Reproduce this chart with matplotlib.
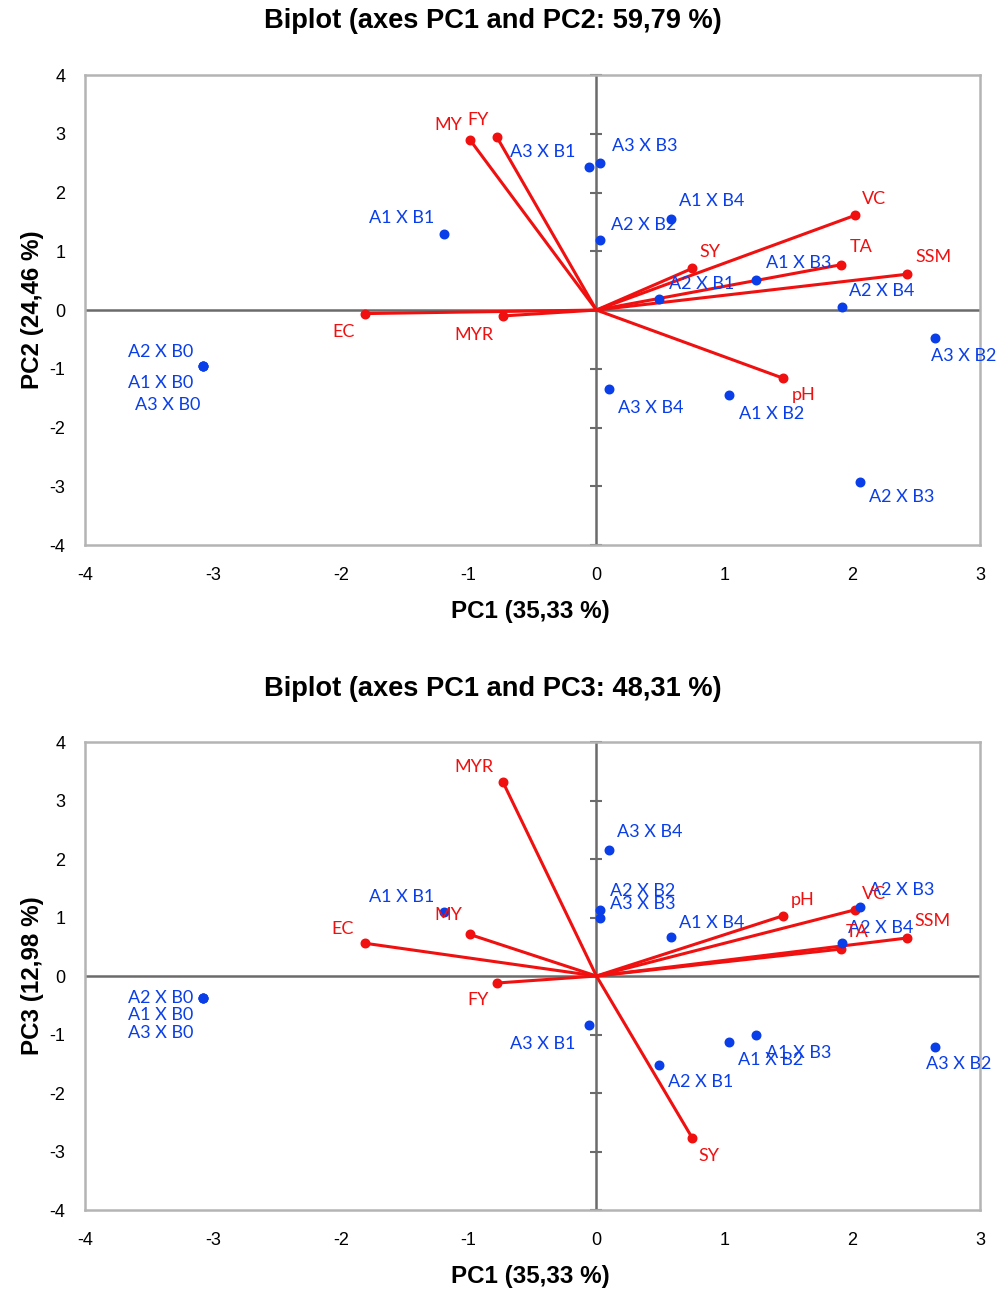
import numpy as np
import matplotlib.pyplot as plt

plt.rcParams['axes.unicode_minus'] = False

# observations (treatments)
obs = ['A2 X B0', 'A1 X B0', 'A3 X B0', 'A1 X B1', 'A2 X B1', 'A3 X B1',
       'A1 X B2', 'A2 X B2', 'A3 X B2', 'A1 X B3', 'A2 X B3', 'A3 X B3',
       'A1 X B4', 'A2 X B4', 'A3 X B4']
obs_pc1 = [-3.08, -3.08, -3.08, -1.19, 0.49, -0.06, 1.04, 0.03, 2.65, 1.25, 2.06, 0.03, 0.58, 1.92, 0.10]
obs_pc2 = [-0.95, -0.95, -0.95, 1.29, 0.19, 2.43, -1.45, 1.19, -0.48, 0.51, -2.92, 2.50, 1.55, 0.05, -1.35]
obs_pc3 = [-0.38, -0.38, -0.38, 1.09, -1.52, -0.84, -1.12, 1.13, -1.21, -1.01, 1.18, 0.99, 0.66, 0.56, 2.16]

# variables (loadings)
var = ['MY', 'FY', 'EC', 'MYR', 'VC', 'TA', 'SSM', 'SY', 'pH']
var_pc1 = [-0.99, -0.78, -1.81, -0.73, 2.02, 1.91, 2.43, 0.75, 1.46]
var_pc2 = [2.90, 2.95, -0.06, -0.10, 1.61, 0.77, 0.61, 0.71, -1.16]
var_pc3 = [0.71, -0.12, 0.56, 3.31, 1.13, 0.46, 0.65, -2.77, 1.03]

# label offsets in pixels (dx, dy)
obs_off_top = [(-42, 14), (-42, -17), (-35, -39), (-43, 16), (43, 15), (-46, 15),
               (42, -19), (43, 15), (28, -18), (42, 17), (42, -15), (44, 17),
               (41, 18), (40, 16), (42, -19)]
var_off_top = [(-22, 15), (-19, 17), (-21, -18), (-29, -19), (19, 16), (21, 18),
               (26, 17), (18, 16), (21, -17)]
obs_off_bot = [(-42, 0), (-42, -17), (-42, -35), (-43, 15), (42, -17), (-46, -19),
               (41, -18), (42, 19), (23, -17), (42, -18), (42, 17), (42, 14),
               (41, 14), (39, 15), (41, 18)]
var_off_bot = [(-22, 19), (-19, -17), (-22, 14), (-29, 15), (19, 16), (17, 17),
               (25, 17), (17, -18), (20, 16)]

BLUE = '#0a3ee8'
RED = '#f01010'
label_font = ['Lato', 'DejaVu Sans']
arial = ['Liberation Sans', 'DejaVu Sans']


def biplot(ax, ox, oy, vx, vy, ooff, voff, title, ylabel, title_y):
    ax.set_xlim(-4, 3)
    ax.set_ylim(-4, 4)
    ax.axhline(0, color='#6b6b6b', lw=1.8, zorder=1)
    ax.axvline(0, color='#6b6b6b', lw=1.8, zorder=1)
    # small ticks on the vertical zero axis
    yt = np.arange(-4, 5)
    xt = np.arange(-4, 4)
    ax.plot(np.zeros(len(yt)), yt, ls='none', marker='_', ms=9, mew=1.5, color='#6b6b6b', zorder=1, clip_on=False)

    for x, y in zip(vx, vy):
        ax.plot([0, x], [0, y], color=RED, lw=2.2, zorder=2)
    ax.scatter(vx, vy, s=38, color=RED, zorder=3)
    ax.scatter(ox, oy, s=38, color=BLUE, zorder=3)

    for name, x, y, off in zip(obs, ox, oy, ooff):
        ax.annotate(name, (x, y), xytext=off, textcoords='offset pixels',
                    ha='center', va='center', color=BLUE, fontsize=13, family=label_font)
    for name, x, y, off in zip(var, vx, vy, voff):
        ax.annotate(name, (x, y), xytext=off, textcoords='offset pixels',
                    ha='center', va='center', color=RED, fontsize=13, family=label_font)

    ax.set_xticks(xt)
    ax.set_yticks(yt)
    ax.tick_params(length=0, labelsize=13)
    ax.tick_params(axis='x', pad=16)
    ax.tick_params(axis='y', pad=14)
    for lab in ax.get_xticklabels() + ax.get_yticklabels():
        lab.set_family(arial)
    for s in ax.spines.values():
        s.set_color('#b4b4b4')
        s.set_linewidth(1.8)
    fig.text(493 / 1005, 1 - title_y / 1290, title, fontsize=19.6, fontweight='bold',
             family=arial, ha='center', va='center')
    ax.set_xlabel('PC1 (35,33 %)', fontsize=17.4, fontweight='bold', family=arial)
    ax.set_ylabel(ylabel, fontsize=17.4, fontweight='bold', family=arial)
    ax.xaxis.set_label_coords(0.498, -0.118)
    ax.yaxis.set_label_coords(-0.046, 0.5)


fig = plt.figure(figsize=(10.05, 12.9), dpi=100)
ax1 = fig.add_axes([0.0846, 0.5775, 0.8905, 0.3643])
ax2 = fig.add_axes([0.0846, 0.062, 0.8905, 0.3628])

biplot(ax1, obs_pc1, obs_pc2, var_pc1, var_pc2, obs_off_top, var_off_top,
       'Biplot (axes PC1 and PC2: 59,79 %)', 'PC2 (24,46 %)', 21)
biplot(ax2, obs_pc1, obs_pc3, var_pc1, var_pc3, obs_off_bot, var_off_bot,
       'Biplot (axes PC1 and PC3: 48,31 %)', 'PC3 (12,98 %)', 689)

fig.savefig('out.png', dpi=100)
